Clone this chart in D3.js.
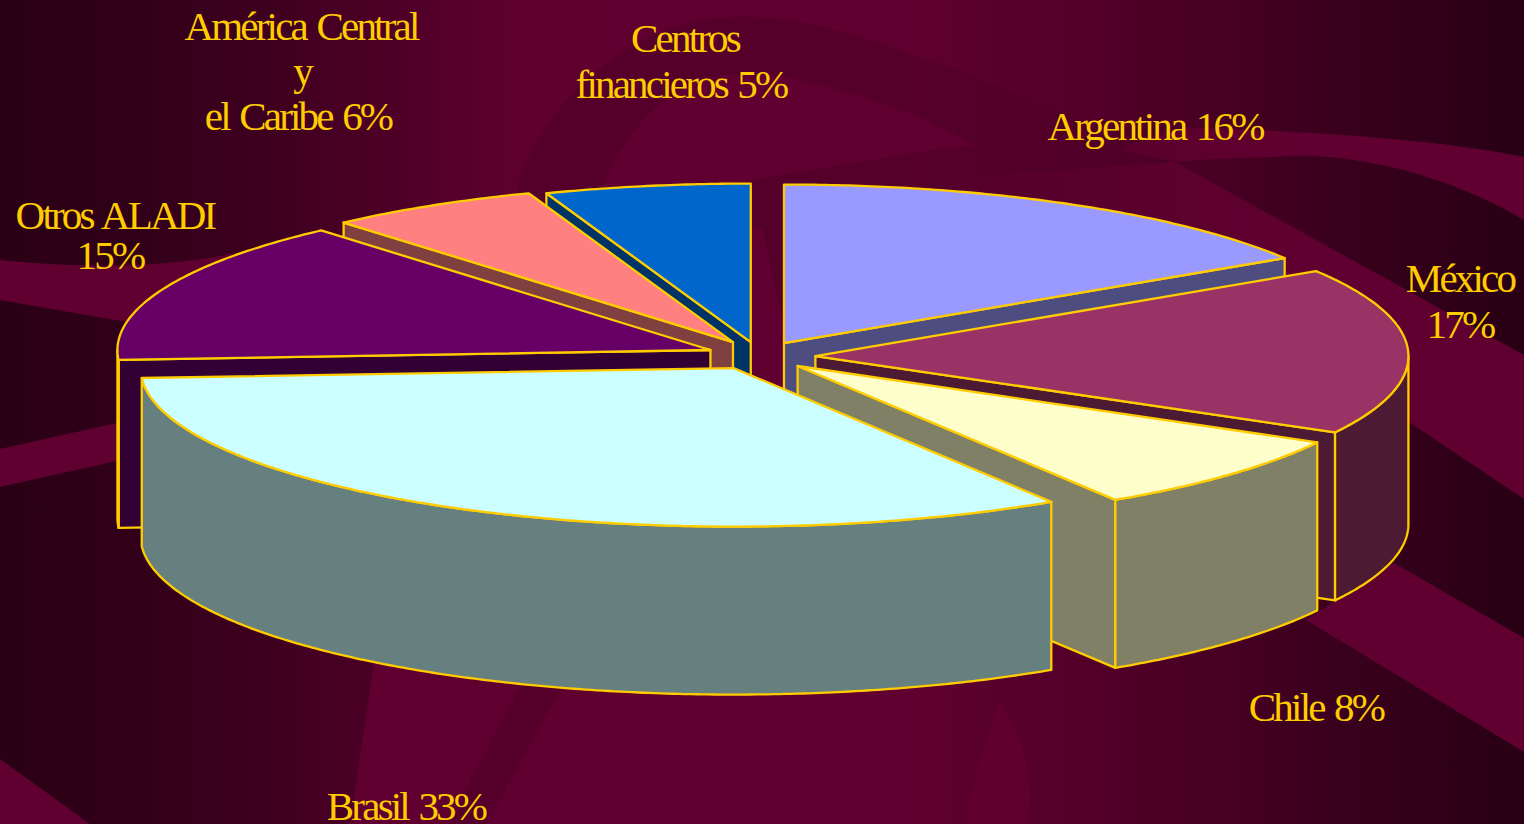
<!DOCTYPE html>
<html><head><meta charset="utf-8">
<style>html,body{margin:0;padding:0;background:#2a0014;overflow:hidden}svg{display:block}</style>
<script src="https://cdnjs.cloudflare.com/ajax/libs/d3/7.8.5/d3.min.js"></script>
</head><body><svg id="c" width="1524" height="824"></svg>
<script>
// ---- data ----
const categories = ["Argentina","México","Chile","Brasil","Otros ALADI","América Central y el Caribe","Centros financieros"];
const values = [16, 17, 8, 33, 14.6, 5.8, 5.6];
const topColors = ["#9999FF","#993366","#FFFFCC","#CCFFFF","#660066","#FF8080","#0066CC"];
const wallColors = ["#4D4D80","#4D1A33","#808066","#668080","#330033","#804040","#003366"];
// slice displacement from the pie centre, in units of the radius
const explodeX = [0.032, 0.085, 0.055, -0.053, -0.092, -0.054, -0.024];
const explodeY = [-0.044, 0.038, 0.101, 0.114, 0.0, -0.050, -0.050];
const drawOrder = [6,5,4,0,1,2,3];
const labelLines = [
  ["Argentina 16%"],["México","17%"],["Chile 8%"],["Brasil 33%"],
  ["Otros ALADI","15%"],["América Central","y","el Caribe 6%"],["Centros","financieros 5%"]
];
const labelX = [[1155],[1460,1460],[1316],[406],[115,110],[301,302,298],[685,681]];
const labelY = [[140],[292,338],[721],[820],[229,269],[40,85,130],[52,98]];

const W=1524,H=824;
const svg=d3.select("#c");
const defs=svg.append("defs");
function hGrad(id,stops,x1,x2){
  const gr=defs.append("linearGradient").attr("id",id).attr("gradientUnits","userSpaceOnUse")
    .attr("x1",x1).attr("x2",x2).attr("y1",0).attr("y2",0);
  stops.forEach(s=>gr.append("stop").attr("offset",s[0]).attr("stop-color",s[1]).attr("stop-opacity",s[2]===undefined?1:s[2]));
}
hGrad("bg",[[0,"#2a0014"],[0.08,"#300018"],[0.17,"#3e001f"],[0.25,"#4c0026"],[0.34,"#5e002f"],[0.40,"#600030"],
 [0.60,"#600030"],[0.66,"#57002b"],[0.72,"#520029"],[0.80,"#470023"],[0.90,"#36001b"],[1,"#280014"]],0,W);
hGrad("brightR",[[0,"#53002a"],[1,"#600030"]],900,1300);
hGrad("ribbon",[[0,"#000",.115],[1,"#000",0]],900,1120);
svg.append("rect").attr("width",W).attr("height",H).attr("fill","url(#bg)");

// background swooshes
const bright="#600030";
const swooshes=[
 // soft dark ribbon behind the top of the pie
 {f:"url(#ribbon)",o:1,d:"M517,190 C540,110 620,22 733,17 C800,14 860,36 920,57 C1000,85 1090,125 1175,162 L1000,175 L762,227 L517,230Z"},
 // lens
 {f:bright,o:1,d:"M603,187 C625,125 680,72 745,74 C800,74 860,95 920,117 L975,145 L920,152 L750,180 L680,195Z"},
 // right field
 {f:"url(#brightR)",o:1,d:"M762,227 L1000,175 L1175,162 L1524,355 L1524,499 L1409,422 L1300,480 L800,400Z"},
 // upper right band
 {f:"url(#brightR)",o:1,d:"M1120,150 C1150,135 1175,128 1200,128 C1320,132 1440,140 1524,157 L1524,220 C1440,170 1340,150 1272,157 C1240,158 1210,159 1175,162Z"},
 // right lower band
 {f:bright,o:1,d:"M1394,563 L1524,638 L1524,752 L1306,620Z"},
 // left upper band
 {f:bright,o:1,d:"M0,260 C70,267 150,270 230,254 L330,238 L300,330 L121,321 L0,300Z"},
 // left lower band
 {f:bright,o:1,d:"M0,449 L130,420 L130,458 L0,487Z"},
 // bottom left corner
 {f:bright,o:1,d:"M0,759 L90,824 L0,824Z"},
 // bottom field
 {f:bright,o:1,d:"M376,650 L350,824 L700,824 L700,650Z"},
 {f:"#000",o:.11,d:"M524,680 L447,824 L486,824 L566,680Z"},
 // leaf
 {f:"#660032",o:.6,d:"M1000,702 C1025,740 1035,780 1027,824 L966,824 C972,780 985,740 1000,702Z"}
];
svg.append("g").selectAll("path").data(swooshes).join("path")
  .attr("d",d=>d.d).attr("fill",d=>d.f).attr("fill-opacity",d=>d.o);

// ---- pie geometry ----
const rx=593, ry=158.5, depth=168, cx=765, cy=350;
const X=d3.scaleLinear().domain([-1,1]).range([cx-rx,cx+rx]);
const Y=d3.scaleLinear().domain([-1,1]).range([cy-ry,cy+ry]);
const arcs=d3.pie().sort(null).value(d=>d)(values);
const line=d3.line();
const STROKE="#FFCC00";

function pt(i,a,r,dz){ // angle clockwise from top
  return [X(r*Math.sin(a)+explodeX[i]), Y(-r*Math.cos(a)+explodeY[i])+dz];
}
function arcPts(i,a0,a1,dz){
  const n=Math.max(2,Math.ceil((a1-a0)/0.01));
  return d3.range(n+1).map(k=>pt(i,a0+(a1-a0)*k/n,1,dz));
}
const g=svg.append("g").attr("stroke",STROKE).attr("stroke-width",2.3).attr("stroke-linejoin","round");
function poly(par,pts,fill){
  par.append("path").attr("d",line(pts)+"Z").attr("fill",fill);
}
const HALF=Math.PI/2, TH=3*Math.PI/2;
drawOrder.forEach(i=>{
  const s=arcs[i], a0=s.startAngle, a1=s.endAngle, wall=wallColors[i];
  const sl=g.append("g").attr("class","slice").attr("data-name",categories[i]);
  // visible radial faces
  if(Math.sin(a0)<-1e-6){
    poly(sl,[pt(i,a0,0,0),pt(i,a0,1,0),pt(i,a0,1,depth),pt(i,a0,0,depth)],wall);
  }
  if(Math.sin(a1)>1e-6){
    poly(sl,[pt(i,a1,0,0),pt(i,a1,1,0),pt(i,a1,1,depth),pt(i,a1,0,depth)],wall);
  }
  // outer wall
  const o0=Math.max(a0,HALF), o1=Math.min(a1,TH);
  if(o1>o0){
    const top=arcPts(i,o0,o1,0), bot=arcPts(i,o0,o1,depth).reverse();
    poly(sl,top.concat(bot),wall);
  }
  // top face
  poly(sl,[pt(i,0,0,0)].concat(arcPts(i,a0,a1,0)),topColors[i]);
});

// ---- labels ----
const lab=svg.append("g").attr("font-family","'Liberation Serif','Times New Roman',serif")
  .attr("font-size",41).attr("fill",STROKE).attr("text-anchor","middle")
  .attr("letter-spacing","-2.8px").attr("word-spacing","3px");
labelLines.forEach((ls,i)=>ls.forEach((t,j)=>{
  lab.append("text").attr("x",labelX[i][j]).attr("y",labelY[i][j]).text(t);
}));
</script></body></html>
